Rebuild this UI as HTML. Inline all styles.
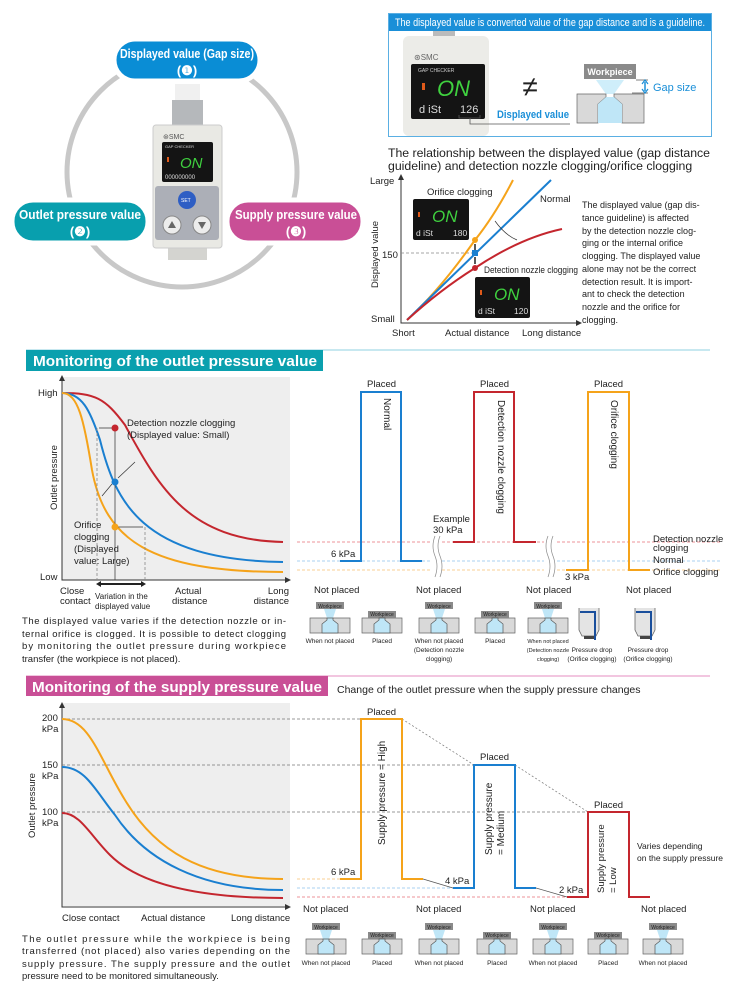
<!DOCTYPE html>
<html><head><meta charset="utf-8"><style>
html,body{margin:0;padding:0;background:#fff}
svg{display:block}
text{font-family:"Liberation Sans",sans-serif;fill:#222}
.s{font-size:9.5px}
.t{font-size:8px}
.w{font-size:5px;fill:#fff}
.c{font-size:6.5px}
</style></head><body>
<svg width="738" height="1000" viewBox="0 0 738 1000" xmlns="http://www.w3.org/2000/svg">
<defs>
<g id="np"><path d="M-20 16H20V31H-20Z" fill="#d9d9d9" stroke="#666" stroke-width=".7"/><path d="M-14 0H14V7H-14Z" fill="#8a8a8a"/><path d="M-6 7L6 7L3 16H-3Z" fill="#bfe6f7"/><path d="M-3 16V18L-8 22V31H8V22L3 18V16Z" fill="#bfe6f7" stroke="#555" stroke-width=".7"/></g>
<g id="pl"><path d="M-20 16H20V31H-20Z" fill="#d9d9d9" stroke="#666" stroke-width=".7"/><path d="M-14 9H14V16H-14Z" fill="#8a8a8a"/><path d="M-3 16V18L-8 22V31H8V22L3 18V16Z" fill="#bfe6f7" stroke="#555" stroke-width=".7"/></g>
<g id="cyl"><path d="M-10 0V22L-7 28H7L10 22V0" fill="#e4e4e4" stroke="#666" stroke-width=".8"/><path d="M-9 4H6V32" fill="none" stroke="#1a4f9c" stroke-width="2"/><path d="M-5 28H5V31H-5Z" fill="#444"/></g>
</defs>

<!-- TOP LEFT -->
<circle cx="182" cy="172" r="115" fill="none" stroke="#c8c8c8" stroke-width="5"/>
<rect x="170" y="82" width="35" height="20" fill="#fff"/>
<rect x="175" y="84" width="25" height="17" fill="#f0f0f0"/>
<rect x="172" y="100" width="31" height="26" fill="#b5b8bb"/>
<rect x="160" y="242" width="55" height="20" fill="#fff"/>
<rect x="168" y="242" width="39" height="18" fill="#d4d4d0"/>
<rect x="153" y="125" width="69" height="123" rx="3" fill="#e9e9e4" stroke="#ccc"/>
<text x="163" y="139" style="font-size:7px;fill:#555">⊛SMC</text>
<rect x="162" y="142" width="51" height="40" rx="2" fill="#141414"/>
<text x="165" y="148" style="font-size:4px;fill:#ddd">GAP CHECKER</text>
<text x="180" y="168" style="font-size:15px;fill:#3fd13f;font-style:italic">ON</text>
<rect x="167" y="157" width="2" height="5" fill="#e05a1a"/>
<text x="165" y="179" style="font-size:6px;fill:#ddd">000000000</text>
<rect x="155" y="186" width="64" height="54" rx="3" fill="#acafb7"/>
<circle cx="187" cy="200" r="9" fill="#2e5ec4"/><text x="181" y="202" style="font-size:5px;fill:#fff">SET</text>
<circle cx="172" cy="225" r="9" fill="#ececec" stroke="#888"/><path d="M168 228L176 228L172 221Z" fill="#666"/>
<circle cx="202" cy="225" r="9" fill="#ececec" stroke="#888"/><path d="M198 222L206 222L202 229Z" fill="#666"/>
<rect x="114" y="39" width="146" height="42" rx="21" fill="#0a8dd5" stroke="#fff" stroke-width="5"/>
<text x="187" y="58" text-anchor="middle" style="font-size:13px;font-weight:bold;fill:#fff" textLength="134" lengthAdjust="spacingAndGlyphs">Displayed value (Gap size)</text>
<text x="187" y="75" text-anchor="middle" style="font-size:13px;font-weight:bold;fill:#fff">(❶)</text>
<rect x="12" y="200" width="136" height="43" rx="21" fill="#089fae" stroke="#fff" stroke-width="5"/>
<text x="80" y="219" text-anchor="middle" style="font-size:13px;font-weight:bold;fill:#fff" textLength="122" lengthAdjust="spacingAndGlyphs">Outlet pressure value</text>
<text x="80" y="236" text-anchor="middle" style="font-size:13px;font-weight:bold;fill:#fff">(❷)</text>
<rect x="227" y="200" width="136" height="43" rx="21" fill="#c94f96" stroke="#fff" stroke-width="5"/>
<text x="296" y="219" text-anchor="middle" style="font-size:13px;font-weight:bold;fill:#fff" textLength="122" lengthAdjust="spacingAndGlyphs">Supply pressure value</text>
<text x="296" y="236" text-anchor="middle" style="font-size:13px;font-weight:bold;fill:#fff">(❸)</text>

<!-- TOP RIGHT BOX -->
<rect x="388.5" y="13.5" width="323" height="123" fill="#fff" stroke="#5aafe3"/>
<rect x="389" y="14" width="322" height="17" fill="#1a8fd8"/>
<text x="550" y="26" text-anchor="middle" style="font-size:11px;fill:#fff" textLength="310" lengthAdjust="spacingAndGlyphs">The displayed value is converted value of the gap distance and is a guideline.</text>
<rect x="433" y="31" width="22" height="6" fill="#bbb"/>
<rect x="403" y="36" width="86" height="100" rx="6" fill="#ecece8"/>
<text x="414" y="60" style="font-size:8px;fill:#666">⊛SMC</text>
<rect x="411" y="64" width="74" height="55" rx="2" fill="#141414"/>
<text x="418" y="72" style="font-size:5px;fill:#ccc">GAP CHECKER</text>
<text x="437" y="96" style="font-size:22px;fill:#3fd13f;font-style:italic">ON</text>
<rect x="422" y="83" width="3" height="7" fill="#e05a1a"/>
<text x="419" y="113" style="font-size:11px;fill:#ddd">d iSt</text>
<text x="460" y="113" style="font-size:11px;fill:#ddd">126</text>
<path d="M459 115V118H480V115M470 118V124H570" fill="none" stroke="#555" stroke-width=".8"/>
<text x="530" y="96" text-anchor="middle" style="font-size:28px">≠</text>
<text x="497" y="118" style="font-size:11px;font-weight:bold;fill:#1a8fd8" textLength="72" lengthAdjust="spacingAndGlyphs">Displayed value</text>
<rect x="584" y="64" width="52" height="15" fill="#8a8a8a"/>
<text x="610" y="75" text-anchor="middle" style="font-size:9px;font-weight:bold;fill:#fff">Workpiece</text>
<path d="M636 80H648M632 93H648" stroke="#555" stroke-width=".7"/>
<path d="M645 82V91" stroke="#1a8fd8" stroke-width="1.5"/><path d="M642 84L645 80L648 84M642 89L645 93L648 89" fill="none" stroke="#1a8fd8" stroke-width="1.2"/>
<text x="653" y="91" style="font-size:11px;fill:#1a8fd8">Gap size</text>
<path d="M596 80H624L614 94H606Z" fill="#cfeefa"/>
<path d="M577 94H606V97L598 104V123H577Z M644 94H614V97L622 104V123H644Z" fill="#d9d9d9" stroke="#666" stroke-width=".7"/>
<path d="M606 97L598 104V123H622V104L614 97Z" fill="#bfe6f7"/>

<text x="388" y="157" style="font-size:12.3px" textLength="322">The relationship between the displayed value (gap distance</text>
<text x="388" y="170" style="font-size:12.3px">guideline) and detection nozzle clogging/orifice clogging</text>
<!-- graph -->
<path d="M401 178V323H578" fill="none" stroke="#333" stroke-width="1"/>
<path d="M398 180L401 174L404 180Z M576 320L582 323L576 326Z" fill="#333"/>
<text x="370" y="184" class="s">Large</text>
<text x="382" y="258" class="s">150</text>
<text x="371" y="322" class="s">Small</text>
<text x="392" y="336" class="s">Short</text>
<text x="445" y="336" class="s">Actual distance</text>
<text x="522" y="336" class="s">Long distance</text>
<text transform="translate(378 288) rotate(-90)" class="s">Displayed value</text>
<path d="M401 253H476" stroke="#888" stroke-dasharray="3 2" stroke-width=".8"/>
<path d="M407 320Q440 290 475 240Q495 215 513 180" fill="none" stroke="#f5a31a" stroke-width="2"/>
<path d="M407 320L551 180" fill="none" stroke="#1a7fd0" stroke-width="2"/>
<path d="M407 320Q440 290 475 268Q520 238 562 229" fill="none" stroke="#c4262e" stroke-width="2"/>
<circle cx="475" cy="240" r="3" fill="#f5a31a"/><rect x="472" y="250" width="6" height="6" fill="#1a7fd0"/><circle cx="475" cy="268" r="3" fill="#c4262e"/>
<path d="M475 244V250M475 257V264" stroke="#222" stroke-width="1.5"/>
<path d="M495 221Q505 235 517 240" fill="none" stroke="#333" stroke-width=".7"/>
<text x="427" y="195" class="s">Orifice clogging</text>
<text x="540" y="202" class="s">Normal</text>
<text x="484" y="273" style="font-size:9px" textLength="94" lengthAdjust="spacingAndGlyphs">Detection nozzle clogging</text>
<rect x="413" y="199" width="56" height="41" rx="2" fill="#141414"/>
<text x="432" y="222" style="font-size:17px;fill:#3fd13f;font-style:italic">ON</text>
<rect x="418" y="212" width="2" height="5" fill="#e05a1a"/>
<text x="416" y="236" style="font-size:8.5px;fill:#ddd">d iSt</text><text x="453" y="236" style="font-size:8.5px;fill:#ddd">180</text>
<rect x="475" y="277" width="55" height="41" rx="2" fill="#141414"/>
<text x="494" y="300" style="font-size:17px;fill:#3fd13f;font-style:italic">ON</text>
<rect x="480" y="290" width="2" height="5" fill="#e05a1a"/>
<text x="478" y="314" style="font-size:8.5px;fill:#ddd">d iSt</text><text x="514" y="314" style="font-size:8.5px;fill:#ddd">120</text>
<g style="font-size:9px"><text x="582" y="208">The displayed value (gap dis-</text><text x="582" y="221">tance guideline) is affected</text><text x="582" y="234">by the detection nozzle clog-</text><text x="582" y="246">ging or the internal orifice</text><text x="582" y="259">clogging. The displayed value</text><text x="582" y="272">alone may not be the correct</text><text x="582" y="285">detection result. It is import-</text><text x="582" y="297">ant to check the detection</text><text x="582" y="310">nozzle and the orifice for</text><text x="582" y="323">clogging.</text></g>

<!-- OUTLET SECTION -->
<path d="M26 350H710" stroke="#8fd0e0" stroke-width="1"/>
<rect x="26" y="350" width="297" height="21" fill="#0aa0ae"/>
<text x="33" y="366" style="font-size:15px;font-weight:bold;fill:#fff" textLength="284" lengthAdjust="spacingAndGlyphs">Monitoring of the outlet pressure value</text>
<rect x="62" y="377" width="228" height="203" fill="#eeeeee"/>
<path d="M62 378V580H288" fill="none" stroke="#333"/>
<path d="M59 381L62 375L65 381Z M285 577L291 580L285 583Z" fill="#333"/>
<text x="38" y="396" class="s">High</text><text x="40" y="580" class="s">Low</text>
<text transform="translate(57 510) rotate(-90)" class="s">Outlet pressure</text>
<path d="M62 393C95 393 105 398 125 425C160 490 190 540 283 542" fill="none" stroke="#c4262e" stroke-width="2"/>
<path d="M62 393C82 393 90 410 100 440C115 500 140 560 283 562" fill="none" stroke="#1a7fd0" stroke-width="2"/>
<path d="M62 393C78 393 84 420 92 470C105 540 150 572 283 572" fill="none" stroke="#f5a31a" stroke-width="2"/>
<path d="M115 428V580" stroke="#444" stroke-width=".8"/>
<path d="M97 428V580M145 527V580" stroke="#888" stroke-width=".8" stroke-dasharray="3 2"/>
<path d="M115 428H99M115 527H143M118 478L135 462M112 484L102 496" stroke="#333" stroke-width=".7"/>
<circle cx="115" cy="428" r="3.5" fill="#c4262e"/><circle cx="115" cy="482" r="3.5" fill="#1a7fd0"/><circle cx="115" cy="527" r="3.5" fill="#f5a31a"/>
<path d="M99 584H143" stroke="#222" stroke-width="2"/><path d="M101 581L96 584L101 587ZM141 581L146 584L141 587Z" fill="#222"/>
<text x="127" y="426" class="s">Detection nozzle clogging</text><text x="127" y="438" class="s">(Displayed value: Small)</text>
<text x="74" y="528" class="s">Orifice</text><text x="74" y="540" class="s">clogging</text><text x="74" y="552" class="s">(Displayed</text><text x="74" y="564" class="s">value: Large)</text>
<text x="60" y="594" class="s">Close</text><text x="60" y="604" class="s">contact</text>
<text x="95" y="599" class="t">Variation in the</text><text x="95" y="609" class="t">displayed value</text>
<text x="175" y="594" class="s">Actual</text><text x="172" y="604" class="s">distance</text>
<text x="289" y="594" text-anchor="end" class="s">Long</text><text x="289" y="604" text-anchor="end" class="s">distance</text>
<g class="s"><text x="22" y="624" textLength="264">The displayed value varies if the detection nozzle or in-</text><text x="22" y="637" textLength="264">ternal orifice is clogged. It is possible to detect clogging</text><text x="22" y="649" textLength="264">by monitoring the outlet pressure during workpiece</text><text x="22" y="662">transfer (the workpiece is not placed).</text></g>

<!-- pulses -->
<path d="M297 542H720" stroke="#e8707a" stroke-width=".8" stroke-dasharray="3 2"/>
<path d="M297 561H720" stroke="#8cc4ec" stroke-width=".8" stroke-dasharray="3 2"/>
<path d="M297 570H720" stroke="#f7c070" stroke-width=".8" stroke-dasharray="3 2"/>
<path d="M340 561H361V392H401V561H422" fill="none" stroke="#1a7fd0" stroke-width="2"/>
<path d="M453 542H474V392H514V542H536" fill="none" stroke="#c4262e" stroke-width="2"/>
<path d="M566 570H588V392H629V570H650" fill="none" stroke="#f5a31a" stroke-width="2"/>
<rect x="430" y="535" width="12" height="44" fill="#fff"/><rect x="544" y="535" width="12" height="44" fill="#fff"/>
<path d="M435 536Q431 546 435 556Q439 566 435 577M440 536Q436 546 440 556Q444 566 440 577M548 536Q544 546 548 556Q552 566 548 577M553 536Q549 546 553 556Q557 566 553 577" fill="none" stroke="#888" stroke-width=".7"/>
<text x="367" y="387" class="s">Placed</text><text x="480" y="387" class="s">Placed</text><text x="594" y="387" class="s">Placed</text>
<text transform="translate(384 398) rotate(90)" style="font-size:10px">Normal</text>
<text transform="translate(498 400) rotate(90)" style="font-size:10px">Detection nozzle clogging</text>
<text transform="translate(611 400) rotate(90)" style="font-size:10px">Orifice clogging</text>
<text x="433" y="522" class="s">Example</text><text x="433" y="533" class="s">30 kPa</text>
<text x="331" y="557" class="s">6 kPa</text><text x="565" y="580" class="s">3 kPa</text>
<text x="653" y="542" class="s">Detection nozzle</text><text x="653" y="551" class="s">clogging</text>
<text x="653" y="563" class="s">Normal</text><text x="653" y="575" class="s">Orifice clogging</text>
<text x="314" y="593" class="s">Not placed</text><text x="416" y="593" class="s">Not placed</text><text x="526" y="593" class="s">Not placed</text><text x="626" y="593" class="s">Not placed</text>
<use href="#np" x="330" y="602"/><use href="#pl" x="382" y="602"/><use href="#np" x="439" y="602"/><use href="#pl" x="495" y="602"/><use href="#np" x="548" y="602"/><use href="#cyl" x="589" y="608"/><use href="#cyl" x="645" y="608"/>
<g class="w"><text x="330" y="608" text-anchor="middle">Workpiece</text><text x="382" y="616" text-anchor="middle">Workpiece</text><text x="439" y="608" text-anchor="middle">Workpiece</text><text x="495" y="616" text-anchor="middle">Workpiece</text><text x="548" y="608" text-anchor="middle">Workpiece</text></g>
<g class="c" text-anchor="middle"><text x="330" y="643">When not placed</text><text x="382" y="643">Placed</text><text x="439" y="643">When not placed</text><text x="439" y="652">(Detection nozzle</text><text x="439" y="661">clogging)</text><text x="495" y="643">Placed</text><text x="548" y="643" style="font-size:5.5px">When not placed</text><text x="548" y="652" style="font-size:5.5px">(Detection nozzle</text><text x="548" y="661" style="font-size:5.5px">clogging)</text><text x="592" y="652">Pressure drop</text><text x="592" y="661">(Orifice clogging)</text><text x="648" y="652">Pressure drop</text><text x="648" y="661">(Orifice clogging)</text></g>

<!-- SUPPLY SECTION -->
<path d="M26 676H710" stroke="#e58cc0" stroke-width="1"/>
<rect x="26" y="676" width="302" height="20" fill="#c94f96"/>
<text x="32" y="692" style="font-size:15px;font-weight:bold;fill:#fff" textLength="290" lengthAdjust="spacingAndGlyphs">Monitoring of the supply pressure value</text>
<text x="337" y="693" style="font-size:10.5px">Change of the outlet pressure when the supply pressure changes</text>
<rect x="62" y="703" width="228" height="203" fill="#eeeeee"/>
<path d="M62 705V907H288" fill="none" stroke="#333"/>
<path d="M59 708L62 702L65 708Z M285 904L291 907L285 910Z" fill="#333"/>
<path d="M62 719H402M62 765H515M62 812H629" stroke="#777" stroke-width=".8" stroke-dasharray="3 2"/>
<text x="42" y="721" class="s">200</text><text x="42" y="732" class="s">kPa</text>
<text x="42" y="768" class="s">150</text><text x="42" y="779" class="s">kPa</text>
<text x="42" y="815" class="s">100</text><text x="42" y="826" class="s">kPa</text>
<text transform="translate(35 838) rotate(-90)" class="s">Outlet pressure</text>
<path d="M62 719C90 719 100 760 125 800C155 850 200 879 283 879" fill="none" stroke="#f5a31a" stroke-width="2"/>
<path d="M62 767C85 767 95 790 115 815C145 860 200 890 283 890" fill="none" stroke="#1a7fd0" stroke-width="2"/>
<path d="M62 813C80 813 90 835 110 855C140 885 200 898 283 898" fill="none" stroke="#c4262e" stroke-width="2"/>
<text x="62" y="921" class="s">Close contact</text><text x="141" y="921" class="s">Actual distance</text><text x="231" y="921" class="s">Long distance</text>
<g class="s"><text x="22" y="942" textLength="268">The outlet pressure while the workpiece is being</text><text x="22" y="954" textLength="268">transferred (not placed) also varies depending on the</text><text x="22" y="967" textLength="268">supply pressure. The supply pressure and the outlet</text><text x="22" y="979">pressure need to be monitored simultaneously.</text></g>

<path d="M297 879H340" stroke="#f7c070" stroke-width=".8" stroke-dasharray="3 2"/>
<path d="M297 888H453" stroke="#8cc4ec" stroke-width=".8" stroke-dasharray="3 2"/>
<path d="M297 897H567" stroke="#e8707a" stroke-width=".8" stroke-dasharray="3 2"/>
<path d="M402 719L474 765M515 765L588 812" stroke="#777" stroke-width=".7" stroke-dasharray="2 2"/>
<path d="M423 879L453 888M536 888L567 897" stroke="#555" stroke-width=".7"/>
<path d="M340 879H361V719H402V879H423" fill="none" stroke="#f5a31a" stroke-width="2"/>
<path d="M453 888H474V765H515V888H536" fill="none" stroke="#1a7fd0" stroke-width="2"/>
<path d="M567 897H588V812H629V897H650" fill="none" stroke="#c4262e" stroke-width="2"/>
<text x="367" y="715" class="s">Placed</text><text x="480" y="760" class="s">Placed</text><text x="594" y="808" class="s">Placed</text>
<text transform="translate(385 845) rotate(-90)" style="font-size:10px">Supply pressure = High</text>
<text transform="translate(492 855) rotate(-90)" style="font-size:10px">Supply pressure</text>
<text transform="translate(504 855) rotate(-90)" style="font-size:10px">= Medium</text>
<text transform="translate(604 893) rotate(-90)" style="font-size:9.5px">Supply pressure</text>
<text transform="translate(616 893) rotate(-90)" style="font-size:9.5px">= Low</text>
<text x="331" y="875" class="s">6 kPa</text><text x="445" y="884" class="s">4 kPa</text><text x="559" y="893" class="s">2 kPa</text>
<text x="637" y="849" style="font-size:8.5px">Varies depending</text><text x="637" y="861" style="font-size:8.5px">on the supply pressure</text>
<text x="303" y="912" class="s">Not placed</text><text x="416" y="912" class="s">Not placed</text><text x="530" y="912" class="s">Not placed</text><text x="641" y="912" class="s">Not placed</text>
<use href="#np" x="326" y="923"/><use href="#pl" x="382" y="923"/><use href="#np" x="439" y="923"/><use href="#pl" x="497" y="923"/><use href="#np" x="553" y="923"/><use href="#pl" x="608" y="923"/><use href="#np" x="663" y="923"/>
<g class="w"><text x="326" y="929" text-anchor="middle">Workpiece</text><text x="382" y="937" text-anchor="middle">Workpiece</text><text x="439" y="929" text-anchor="middle">Workpiece</text><text x="497" y="937" text-anchor="middle">Workpiece</text><text x="553" y="929" text-anchor="middle">Workpiece</text><text x="608" y="937" text-anchor="middle">Workpiece</text><text x="663" y="929" text-anchor="middle">Workpiece</text></g>
<g class="c" text-anchor="middle"><text x="326" y="965">When not placed</text><text x="382" y="965">Placed</text><text x="439" y="965">When not placed</text><text x="497" y="965">Placed</text><text x="553" y="965">When not placed</text><text x="608" y="965">Placed</text><text x="663" y="965">When not placed</text></g>
</svg>
</body></html>
